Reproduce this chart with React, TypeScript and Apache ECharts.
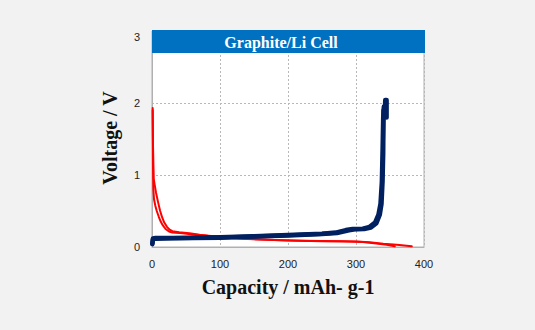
import React, { useEffect, useRef } from "react";
import * as echarts from "echarts";

const xTicks = [0, 100, 200, 300, 400];
const yTicks = [0, 1, 2, 3];
const titleText = "Graphite/Li Cell";
const xName = "Capacity / mAh- g-1";
const yName = "Voltage / V";

const red1: [number, number][] = [
  [1, 1.93], [1.5, 1.4], [2.5, 0.95], [4, 0.86], [6, 0.75], [9, 0.62], [12, 0.5], [15, 0.41],
  [18, 0.34], [22, 0.28], [26, 0.24], [30, 0.22], [40, 0.205], [55, 0.19], [70, 0.17],
  [90, 0.15], [110, 0.13], [130, 0.118], [160, 0.103], [200, 0.09], [250, 0.08], [300, 0.075],
  [320, 0.065], [340, 0.045], [360, 0.03], [382, 0.01],
];
const red2: [number, number][] = [
  [1, 1.9], [1.5, 1.1], [2, 0.8], [3, 0.66], [5, 0.57], [7, 0.5], [10, 0.42], [13, 0.35],
  [16, 0.3], [20, 0.25], [25, 0.215], [30, 0.2], [45, 0.19], [60, 0.175], [80, 0.155],
  [100, 0.135], [140, 0.112], [180, 0.097], [220, 0.087], [280, 0.079], [310, 0.07],
  [330, 0.05], [345, 0.03], [357, 0.01],
];
const blue1: [number, number][] = [
  [0.5, 0.05], [1.5, 0.12], [5, 0.125], [30, 0.125], [60, 0.13], [100, 0.135], [150, 0.15],
  [200, 0.165], [250, 0.185], [270, 0.2], [285, 0.235], [295, 0.25], [310, 0.255], [320, 0.28],
  [328, 0.34], [333, 0.45], [336, 0.6], [338, 0.9], [339, 1.3], [340, 1.8], [341, 1.95],
  [342.5, 1.9], [343, 2.04], [345, 2.04], [345, 1.8],
];
const blue2: [number, number][] = [
  [0.5, 0.04], [1.5, 0.11], [5, 0.115], [30, 0.12], [60, 0.125], [100, 0.13], [150, 0.145],
  [200, 0.16], [250, 0.18], [272, 0.195], [288, 0.23], [298, 0.245], [312, 0.25], [322, 0.27],
  [330, 0.33], [335, 0.45], [337.5, 0.6], [339, 0.9], [340, 1.3], [340.5, 1.9],
];

export default function App() {
  const ref = useRef<HTMLDivElement>(null);
  useEffect(() => {
    const chart = echarts.init(ref.current!, undefined, { renderer: "svg" });
    const serif = "'Liberation Serif', 'DejaVu Serif', serif";
    const gl = 152, gt = 31, gw = 272, gh = 216;
    const lineSeries = (data: [number, number][], color: string, width: number, z: number) => ({
      type: "line",
      data,
      showSymbol: false,
      symbol: "none",
      z,
      lineStyle: { color, width, join: "round", cap: "round" },
    });
    chart.setOption({
      animation: false,
      backgroundColor: "#f2f2f2",
      grid: { left: gl, top: gt, width: gw, height: gh, show: true, backgroundColor: "#ffffff", borderColor: "#b0b0b0", borderWidth: 1 },
      xAxis: {
        type: "value",
        min: xTicks[0],
        max: xTicks[xTicks.length - 1],
        interval: 100,
        axisLine: { show: true, lineStyle: { color: "#b0b0b0" } },
        axisTick: { show: false },
        splitLine: { show: true, lineStyle: { color: "#b8b8b8", type: [2, 2] } },
        axisLabel: { color: "#222", fontSize: 11, fontFamily: "'Liberation Sans', Arial, sans-serif", margin: 11 },
      },
      yAxis: {
        type: "value",
        min: yTicks[0],
        max: yTicks[yTicks.length - 1],
        interval: 1,
        axisLine: { show: true, lineStyle: { color: "#b0b0b0" } },
        axisTick: { show: false },
        splitLine: { show: true, lineStyle: { color: "#b8b8b8", type: [2, 2] } },
        axisLabel: {
          color: "#222", fontSize: 11, fontFamily: "'Liberation Sans', Arial, sans-serif", margin: 12,
          formatter: (v: number) => (v === 3 ? "{t|3}" : String(v)),
          rich: { t: { padding: [11, 0, 0, 0], fontSize: 11, color: "#222" } },
        },
      },
      series: [
        lineSeries(red1, "#ff0000", 2, 2),
        lineSeries(red2, "#ff0000", 2, 2),
        lineSeries(blue2, "#002060", 4.5, 3),
        lineSeries(blue1, "#002060", 4.5, 3),
      ],
      graphic: [
        { type: "rect", shape: { x: gl, y: 30, width: gw + 1, height: 23 }, style: { fill: "#0070c0" }, z: 10 },
        {
          type: "text", x: 281, y: 42, z: 11,
          style: { text: titleText, fill: "#ffffff", font: `bold 16px ${serif}`, align: "center", verticalAlign: "middle" },
        },
        {
          type: "text", x: 288, y: 287, z: 11,
          style: { text: xName, fill: "#111", font: `bold 20px ${serif}`, align: "center", verticalAlign: "middle" },
        },
        {
          type: "text", x: 110, y: 138, rotation: Math.PI / 2, z: 11,
          style: { text: yName, fill: "#111", font: `bold 20px ${serif}`, align: "center", verticalAlign: "middle" },
        },
      ],
    });
    return () => chart.dispose();
  }, []);
  return <div ref={ref} style={{ position: "fixed", left: 0, top: 0, width: 535, height: 330 }} />;
}
